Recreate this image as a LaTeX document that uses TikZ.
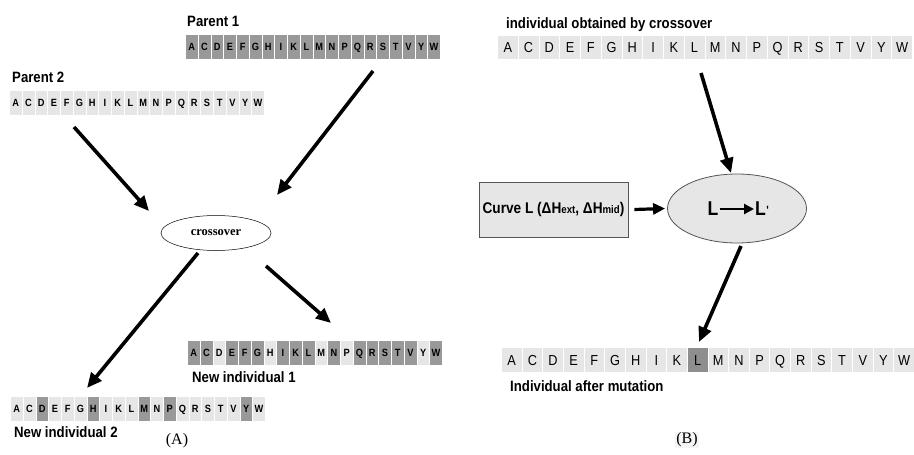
\documentclass[tikz,border=0pt]{standalone}
\usepackage{fontspec}
\setmainfont{Liberation Sans}
\newfontfamily\narrowsans[FakeStretch=0.88]{Liberation Sans}
\newfontfamily\timesface{Liberation Serif}
\usetikzlibrary{arrows.meta,shapes.geometric}

\definecolor{lt}{HTML}{E6E6E6}
\definecolor{dk}{HTML}{999999}
\definecolor{dkk}{HTML}{8E8E8E}
\definecolor{rim}{HTML}{555555}

\tikzset{
  seqcell/.style={draw=white, line width=0.8pt, inner sep=0pt, anchor=north west, text depth=0pt},
  seqlabel/.style={anchor=west, inner sep=0pt, font=\narrowsans\bfseries\fontsize{15}{15}\selectfont},
  bigarrow/.style={line width=3.6pt, -{Triangle[length=15pt,width=13pt]}},
  midarrow/.style={line width=3.2pt, -{Triangle[length=12pt,width=11pt]}},
  panelmark/.style={inner sep=1pt, font=\timesface\fontsize{16}{16}\selectfont},
  smallcell/.style={font=\narrowsans\bfseries\fontsize{10.5}{10.5}\selectfont},
  largecell/.style={font=\narrowsans\fontsize{14.5}{14.5}\selectfont},
}

% #1 name, #2 left x, #3 top y, #4 cell width, #5 cell height, #6 cell style, #7 text height, #8 letter/colour list
\newcommand\seqstrip[8]{%
  \foreach \ch/\col [count=\i] in {#8}{%
    \node[seqcell, #6, fill=\col, minimum width=#4pt, minimum height=#5pt, text height=#7]
      (#1-\i) at ({#2+(\i-1)*#4},#3) {\ch};
  }}

\begin{document}
\begin{tikzpicture}[x=1pt, y=-1pt]
\useasboundingbox (0,0) rectangle (914,455);

% ---------------- (A) crossover ----------------
\node[seqlabel] (p1lab) at (187,21) {Parent 1};
\seqstrip{pone}{185}{34}{12.75}{25}{smallcell}{7.6pt}{A/dk,C/dk,D/dk,E/dk,F/dk,G/dk,H/dk,I/dk,K/dk,L/dk,M/dk,N/dk,P/dk,Q/dk,R/dk,S/dk,T/dk,V/dk,Y/dk,W/dk}

\node[seqlabel] (p2lab) at (12,77) {Parent 2};
\seqstrip{ptwo}{9}{90}{12.75}{25}{smallcell}{7.6pt}{A/lt,C/lt,D/lt,E/lt,F/lt,G/lt,H/lt,I/lt,K/lt,L/lt,M/lt,N/lt,P/lt,Q/lt,R/lt,S/lt,T/lt,V/lt,Y/lt,W/lt}

\node[draw, line width=0.5pt, ellipse, minimum width=110pt, minimum height=35pt, inner sep=0pt,
      font=\timesface\bfseries\fontsize{12.5}{12.5}\selectfont] (cross) at (216,233) {crossover};

\seqstrip{newone}{187}{340}{12.75}{25}{smallcell}{7.6pt}{A/dk,C/dk,D/lt,E/dk,F/dk,G/dk,H/lt,I/dk,K/dk,L/dk,M/lt,N/dk,P/lt,Q/dk,R/dk,S/dk,T/dk,V/dk,Y/lt,W/dk}
\node[seqlabel] (n1lab) at (192,377) {New individual 1};

\seqstrip{newtwo}{10}{396}{12.75}{25}{smallcell}{7.6pt}{A/lt,C/lt,D/dk,E/lt,F/lt,G/lt,H/dk,I/lt,K/lt,L/lt,M/dk,N/lt,P/dk,Q/lt,R/lt,S/lt,T/lt,V/lt,Y/dk,W/lt}
\node[seqlabel] (n2lab) at (14,432) {New individual 2};

\coordinate (a1s) at (74,127);  \coordinate (a1e) at (149,211);
\coordinate (a2s) at (373,71);  \coordinate (a2e) at (277,195);
\coordinate (a3s) at (198,253); \coordinate (a3e) at (87,388);
\coordinate (a4s) at (266,266); \coordinate (a4e) at (331,323);
\draw[bigarrow] (a1s) -- (a1e);
\draw[bigarrow] (a2s) -- (a2e);
\draw[bigarrow] (a3s) -- (a3e);
\draw[bigarrow] (a4s) -- (a4e);

\node[panelmark] (markA) at (177,441) {(A)};

% ---------------- (B) mutation ----------------
\node[seqlabel] (bclab) at (506,25) {individual obtained by crossover};
\seqstrip{btop}{497}{35}{20.75}{24}{largecell}{10.3pt}{A/lt,C/lt,D/lt,E/lt,F/lt,G/lt,H/lt,I/lt,K/lt,L/lt,M/lt,N/lt,P/lt,Q/lt,R/lt,S/lt,T/lt,V/lt,Y/lt,W/lt}

\node[draw=rim, fill=lt, line width=0.8pt, minimum width=149pt, minimum height=55pt, inner sep=0pt,
      font=\narrowsans\bfseries\fontsize{15.5}{15.5}\selectfont] (curve) at (553.5,209.5)
      {Curve L (ΔH{\fontsize{11}{11}\selectfont ext}, ΔH{\fontsize{11}{11}\selectfont mid})};

\node[draw=rim, fill=lt, line width=0.8pt, ellipse, minimum width=139pt, minimum height=69pt, inner sep=0pt] (mut) at (737,208.5) {};
\node[inner sep=0pt, font=\narrowsans\bfseries\fontsize{20}{20}\selectfont] (lfrom) at (713,209) {L};
\node[inner sep=0pt, anchor=west, font=\narrowsans\bfseries\fontsize{20}{20}\selectfont] (lto) at (755,209) {L\kern0.5pt\raisebox{1pt}{\fontsize{12}{12}\selectfont '}};
\draw[line width=2.6pt, -{Triangle[length=10pt,width=10pt]}] (lfrom.east) ++(1,0) -- ([xshift=-1pt]lto.west);

\seqstrip{bbot}{501}{347}{20.65}{25}{largecell}{10.3pt}{A/lt,C/lt,D/lt,E/lt,F/lt,G/lt,H/lt,I/lt,K/lt,L/dkk,M/lt,N/lt,P/lt,Q/lt,R/lt,S/lt,T/lt,V/lt,Y/lt,W/lt}
\node[seqlabel] (balab) at (510,386) {Individual after mutation};

\coordinate (b1s) at (701,73);  \coordinate (b1e) at (731,173);
\coordinate (b2s) at (741,246); \coordinate (b2e) at (699,342);
\draw[bigarrow] (b1s) -- (b1e);
\draw[midarrow] (curve.east) ++(6,0) -- ([xshift=-2pt]mut.west);
\draw[bigarrow] (b2s) -- (b2e);

\node[panelmark, fill=black!4] (markB) at (687,440) {(B)};
\end{tikzpicture}
\end{document}
